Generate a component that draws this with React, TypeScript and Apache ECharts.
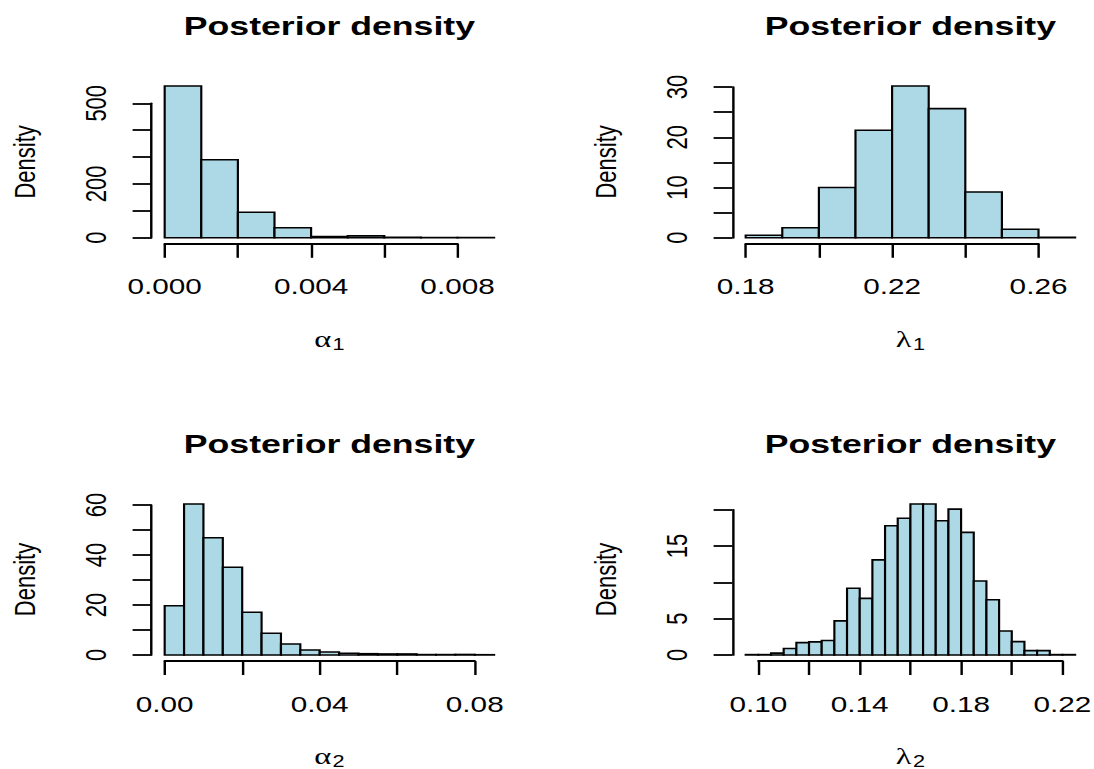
import React, { useEffect, useRef } from 'react';
import * as echarts from 'echarts';

// ---------- Data ----------
// Panel 1: alpha_1
const alpha1Breaks = [0, 0.001, 0.002, 0.003, 0.004, 0.005, 0.006, 0.007, 0.008, 0.009];
const alpha1Density = [564, 290, 95, 37, 4, 7, 2, 1, 1];
const alpha1XTicks = [0, 0.002, 0.004, 0.006, 0.008];
const alpha1XLabels = ['0.000', '', '0.004', '', '0.008'];
const alpha1YTicks = [0, 100, 200, 300, 400, 500];
const alpha1YLabels = ['0', '', '200', '', '', '500'];

// Panel 2: lambda_1
const lambda1Breaks = [0.18, 0.19, 0.2, 0.21, 0.22, 0.23, 0.24, 0.25, 0.26, 0.27];
const lambda1Density = [0.5, 2.0, 10.0, 21.4, 30.2, 25.7, 9.1, 1.7, 0.1];
const lambda1XTicks = [0.18, 0.2, 0.22, 0.24, 0.26];
const lambda1XLabels = ['0.18', '', '0.22', '', '0.26'];
const lambda1YTicks = [0, 5, 10, 15, 20, 25, 30];
const lambda1YLabels = ['0', '', '10', '', '20', '', '30'];

// Panel 3: alpha_2
const alpha2Breaks = [0, 0.005, 0.01, 0.015, 0.02, 0.025, 0.03, 0.035, 0.04, 0.045, 0.05, 0.055, 0.06, 0.065, 0.07, 0.075, 0.08, 0.085];
const alpha2Density = [19.7, 60.4, 46.9, 35.1, 17.1, 8.7, 4.4, 2.0, 1.2, 0.7, 0.5, 0.4, 0.4, 0.15, 0.15, 0.2, 0.1];
const alpha2XTicks = [0, 0.02, 0.04, 0.06, 0.08];
const alpha2XLabels = ['0.00', '', '0.04', '', '0.08'];
const alpha2YTicks = [0, 10, 20, 30, 40, 50, 60];
const alpha2YLabels = ['0', '', '20', '', '40', '', '60'];

// Panel 4: lambda_2
const lambda2Breaks = [0.095, 0.1, 0.105, 0.11, 0.115, 0.12, 0.125, 0.13, 0.135, 0.14, 0.145, 0.15, 0.155, 0.16, 0.165, 0.17, 0.175, 0.18, 0.185, 0.19, 0.195, 0.2, 0.205, 0.21, 0.215, 0.22, 0.225];
const lambda2Density = [0.05, 0.05, 0.25, 0.9, 1.7, 1.8, 2.0, 4.7, 9.2, 7.8, 13.1, 17.8, 18.85, 20.8, 20.8, 18.5, 20.1, 16.9, 10.2, 7.6, 3.3, 1.84, 0.6, 0.6, 0.05, 0.05];
const lambda2XTicks = [0.1, 0.12, 0.14, 0.16, 0.18, 0.2, 0.22];
const lambda2XLabels = ['0.10', '', '0.14', '', '0.18', '', '0.22'];
const lambda2YTicks = [0, 5, 10, 15, 20];
const lambda2YLabels = ['0', '5', '', '15', ''];

const titleText = 'Posterior density';
const yName = 'Density';

// ---------- Layout ----------
const W0 = 810;
const H0 = 769;
const S = 1094 / W0; // horizontal stretch of the original picture
const FONT = '"Liberation Sans", Arial, Helvetica, sans-serif';
const SERIF = '"Liberation Serif", "DejaVu Serif", serif';
const FILL = '#ADD8E6';

type Box = { L: number; R: number; T: number; B: number };
type Panel = {
  breaks: number[]; dens: number[];
  xTicks: number[]; xLabels: string[];
  yTicks: number[]; yLabels: string[];
  sym: string; sub: string; box: Box;
};

const boxes: Box[] = [
  { L: 151.5, R: 507.3, T: 80, B: 243.8 },
  { L: 732.5, R: 1088.3, T: 80, B: 243.8 },
  { L: 151.5, R: 507.3, T: 498, B: 661 },
  { L: 732.5, R: 1088.3, T: 498, B: 661 },
];

const panels: Panel[] = [
  { breaks: alpha1Breaks, dens: alpha1Density, xTicks: alpha1XTicks, xLabels: alpha1XLabels, yTicks: alpha1YTicks, yLabels: alpha1YLabels, sym: 'α', sub: '1', box: boxes[0] },
  { breaks: lambda1Breaks, dens: lambda1Density, xTicks: lambda1XTicks, xLabels: lambda1XLabels, yTicks: lambda1YTicks, yLabels: lambda1YLabels, sym: 'λ', sub: '1', box: boxes[1] },
  { breaks: alpha2Breaks, dens: alpha2Density, xTicks: alpha2XTicks, xLabels: alpha2XLabels, yTicks: alpha2YTicks, yLabels: alpha2YLabels, sym: 'α', sub: '2', box: boxes[2] },
  { breaks: lambda2Breaks, dens: lambda2Density, xTicks: lambda2XTicks, xLabels: lambda2XLabels, yTicks: lambda2YTicks, yLabels: lambda2YLabels, sym: 'λ', sub: '2', box: boxes[3] },
];

function layout(p: Panel) {
  const L = p.box.L / S, R = p.box.R / S, T = p.box.T, B = p.box.B;
  const x0 = p.breaks[0], x1 = p.breaks[p.breaks.length - 1];
  const dx = x1 - x0;
  const xl0 = x0 - 0.04 * dx, xl1 = x1 + 0.04 * dx;
  const ymax = Math.max(...p.dens);
  const yl0 = -0.04 * ymax, yl1 = 1.04 * ymax;
  const px = (v: number) => L + ((v - xl0) / (xl1 - xl0)) * (R - L);
  const py = (v: number) => B - ((v - yl0) / (yl1 - yl0)) * (B - T);
  const gl = px(p.xTicks[0]);
  const gr = px(p.xTicks[p.xTicks.length - 1]);
  const gt = py(p.yTicks[p.yTicks.length - 1]);
  const gb = py(p.yTicks[0]);
  return { L, R, T, B, grid: { left: gl, top: gt, width: gr - gl, height: gb - gt }, xOffset: B - gb, yOffset: gl - L };
}

const fmt = (ticks: number[], labels: string[]) => (v: number) => {
  for (let i = 0; i < ticks.length; i++) {
    if (Math.abs(v - ticks[i]) < 1e-9 * Math.max(1, Math.abs(ticks[i])) + 1e-12) return labels[i];
  }
  return '';
};

const round = (v: number) => +v.toFixed(10);

function buildOption() {
  const lays = panels.map(layout);
  const grid: any[] = [];
  const xAxis: any[] = [];
  const yAxis: any[] = [];
  const series: any[] = [];
  const graphic: any[] = [];

  panels.forEach((p, i) => {
    const l = lays[i];
    grid.push({ ...l.grid, containLabel: false, outerBoundsMode: 'none', show: false });
    const lineStyle = { color: '#000', width: 1.8 };
    xAxis.push({
      type: 'value', gridIndex: i,
      min: p.xTicks[0], max: p.xTicks[p.xTicks.length - 1],
      interval: round(p.xTicks[1] - p.xTicks[0]),
      offset: l.xOffset,
      axisLine: { show: true, onZero: false, lineStyle },
      axisTick: { show: true, inside: false, length: 14, lineStyle },
      axisLabel: { show: true, margin: 32, fontSize: 22, fontFamily: FONT, color: '#000', formatter: fmt(p.xTicks, p.xLabels) },
      splitLine: { show: false },
    });
    yAxis.push({
      type: 'value', gridIndex: i,
      min: p.yTicks[0], max: p.yTicks[p.yTicks.length - 1],
      interval: round(p.yTicks[1] - p.yTicks[0]),
      offset: l.yOffset,
      axisLine: { show: true, onZero: false, lineStyle },
      axisTick: { show: true, inside: false, length: 14, lineStyle },
      axisLabel: { show: true, rotate: 90, margin: 30, fontSize: 22, fontFamily: FONT, color: '#000', formatter: fmt(p.yTicks, p.yLabels) },
      splitLine: { show: false },
    });
    const data = p.dens.map((d, k) => [p.breaks[k], p.breaks[k + 1], d]);
    series.push({
      type: 'custom', xAxisIndex: i, yAxisIndex: i, clip: false,
      encode: { x: [0, 1], y: 2 },
      data,
      renderItem: (_params: any, api: any) => {
        const a = api.coord([api.value(0), api.value(2)]);
        const b = api.coord([api.value(1), 0]);
        return {
          type: 'rect',
          shape: { x: a[0], y: a[1], width: b[0] - a[0], height: b[1] - a[1] },
          style: { fill: FILL, stroke: '#000', lineWidth: 1.6 },
        };
      },
    });

    const cx = (l.L + l.R) / 2;
    graphic.push({
      type: 'text', x: cx, y: l.T - 54,
      style: { text: titleText, fontSize: 26.4, fontWeight: 'bold', fontFamily: FONT, fill: '#000', align: 'center', verticalAlign: 'middle', textAlign: 'center', textVerticalAlign: 'middle' },
    });
    graphic.push({
      type: 'text', x: l.L - 93.7, y: (l.T + l.B) / 2, rotation: Math.PI / 2,
      style: { text: yName, fontSize: 22, fontFamily: FONT, fill: '#000', align: 'center', verticalAlign: 'middle', textAlign: 'center', textVerticalAlign: 'middle' },
    });
    graphic.push({
      type: 'text', x: cx, y: l.B + 95,
      style: {
        text: `{a|${p.sym}}{s|${p.sub}}`,
        align: 'center', verticalAlign: 'middle', textAlign: 'center', textVerticalAlign: 'middle',
        fill: '#000',
        rich: {
          a: { fontSize: 24, fontFamily: SERIF, lineHeight: 24, fill: '#000', color: '#000' },
          s: { fontSize: 16, fontFamily: FONT, lineHeight: 16, fill: '#000', color: '#000', padding: [11, 0, 0, 1] },
        },
      },
    });
  });

  return { animation: false, backgroundColor: '#fff', grid, xAxis, yAxis, series, graphic };
}

export default function App() {
  const ref = useRef<HTMLDivElement>(null);
  useEffect(() => {
    if (!ref.current) return;
    const chart = echarts.init(ref.current, null, { renderer: 'svg', width: W0, height: H0 });
    chart.setOption(buildOption() as any);
    return () => chart.dispose();
  }, []);
  return (
    <div
      ref={ref}
      style={{
        position: 'absolute', left: 0, top: 0, width: W0, height: H0,
        transform: `scaleX(${S})`, transformOrigin: '0 0', background: '#fff',
      }}
    />
  );
}
